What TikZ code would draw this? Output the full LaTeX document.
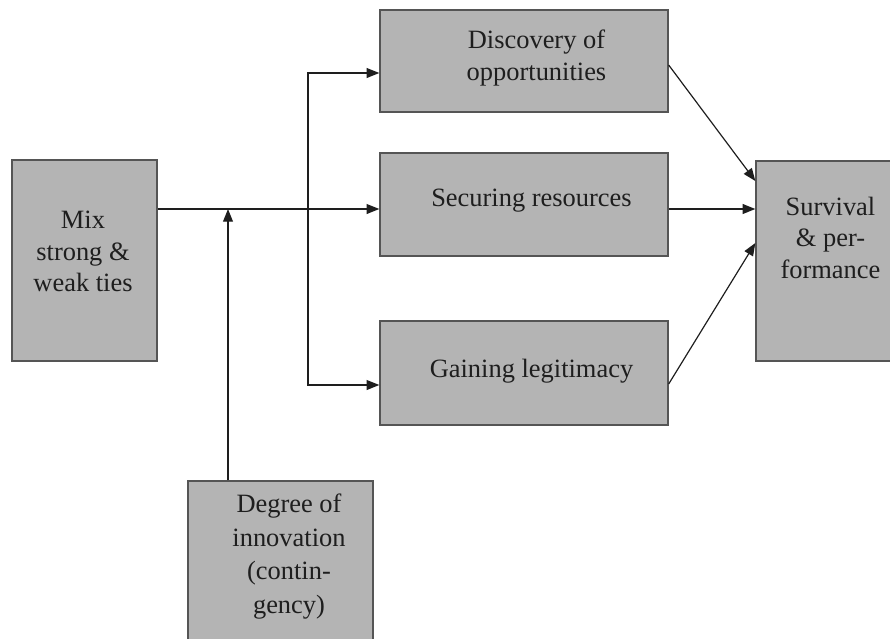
\documentclass[tikz,border=0pt]{standalone}
\usepackage{fontspec}
\setmainfont{Liberation Serif}
\usetikzlibrary{arrows.meta}

\begin{document}
\begin{tikzpicture}[x=0.025cm,y=-0.025cm,
  box/.style={draw=boxline,fill=boxfill,line width=0.9pt,inner sep=0pt},
  txt/.style={align=center,inner sep=0pt,text=ink,font=\fontsize{18.8}{22.4}\selectfont},
  arr/.style={draw=ink,line width=0.85pt,-{Triangle[length=9pt,width=7pt]}}]
% Define colours
\definecolor{boxfill}{RGB}{180,180,180}
\definecolor{boxline}{RGB}{85,85,85}
\definecolor{ink}{RGB}{30,30,30}

\clip (0,0) rectangle (890,639);

% Draw boxes
\node[box,minimum width=3.625cm,minimum height=5.025cm] (mix) at (84.5,260.5) {};
\node[box,minimum width=7.2cm,minimum height=2.55cm] (disc) at (524,61) {};
\node[box,minimum width=7.2cm,minimum height=2.575cm] (secr) at (524,204.5) {};
\node[box,minimum width=7.2cm,minimum height=2.6cm] (gain) at (524,373) {};
\node[box,minimum width=3.75cm,minimum height=5cm] (surv) at (831,261) {};
\node[box,minimum width=4.625cm,minimum height=4.5cm] (degr) at (280.5,571) {};

% Add box texts
\node[txt] (mixtxt) at (83,251.5) {Mix\\strong \&\\weak ties};
\node[txt] (disctxt) at (536.5,58) {Discovery of\\opportunities};
\node[txt] (secrtxt) at (531.5,201) {Securing resources};
\node[txt] (gaintxt) at (531.5,371) {Gaining legitimacy};
\node[txt] (survtxt) at (830.5,237.5) {Survival\\\& per-\\formance};
\node[txt,font=\fontsize{18.8}{24}\selectfont] (degrtxt) at (289,556.5) {Degree of\\innovation\\(contin-\\gency)};

% Draw connections
\coordinate (fork) at (308,209);
\coordinate (tie) at (228,209);
\draw[arr] (mix.east |- fork) -- (secr.west |- fork);
\draw[arr] (fork) |- (disc.west |- 0,73);
\draw[arr] (fork) |- (gain.west |- 0,385);
\draw[arr] (degr.north -| tie) -- (tie);
\draw[arr] (disc.east |- 0,65) -- (surv.west |- 0,181);
\draw[arr] (secr.east |- fork) -- (surv.west |- fork);
\draw[arr] (gain.east |- 0,384) -- (surv.west |- 0,243);
\end{tikzpicture}
\end{document}
